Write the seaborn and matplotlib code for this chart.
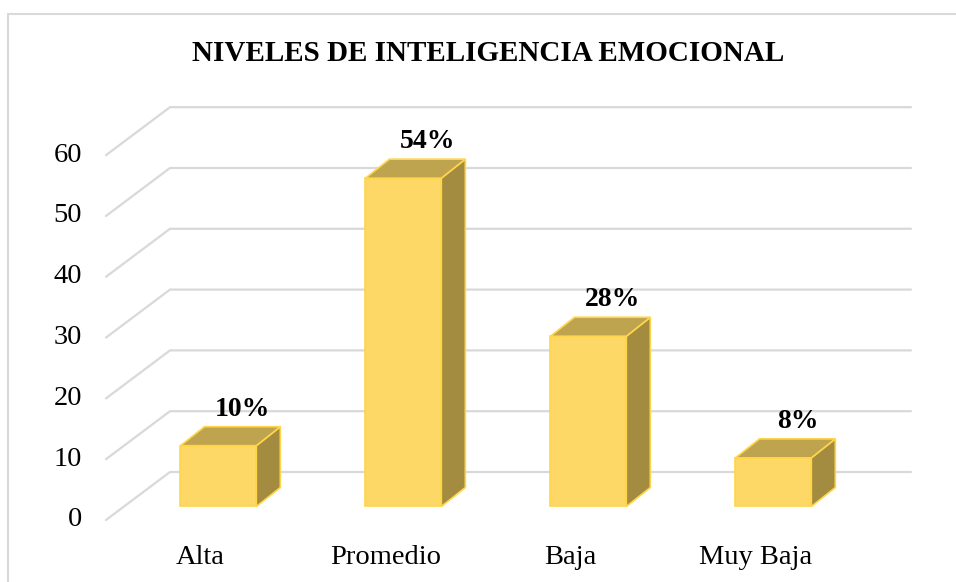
import matplotlib
matplotlib.use("Agg")
import matplotlib.pyplot as plt
import seaborn as sns
from matplotlib.patches import Polygon, Rectangle

# datos
categorias = ["Alta", "Promedio", "Baja", "Muy Baja"]
valores = [10, 54, 28, 8]
etiquetas = ["10%", "54%", "28%", "8%"]
ticks_y = [0, 10, 20, 30, 40, 50, 60]
titulo = "NIVELES DE INTELIGENCIA EMOCIONAL"

# colores estilo Excel 3D
c_frente = "#FDD866"
c_arriba = "#BFA44F"
c_lado = "#A38B40"
c_borde = "#FFD54A"
c_grid = "#D9D9D9"

sns.set_style("white")
plt.rcParams["font.family"] = ["Liberation Serif", "DejaVu Serif"]

W, H = 956, 582
fig = plt.figure(figsize=(W / 100, H / 100), dpi=100)
ax = fig.add_axes([124 / W, (H - 524.74) / H, 741 / W, (524.74 - 105.2) / H])

sns.barplot(x=categorias, y=valores, color=c_frente, width=0.41,
            edgecolor=c_borde, linewidth=1.2, saturation=1,
            errorbar=None, ax=ax, zorder=3)
ax.set_xlim(-0.5103, 3.4951)
ax.set_ylim(-3, 66)
ax.axis("off")


def px(dx, dy):
    # convierte un desplazamiento en pixeles a unidades de datos
    x0, x1 = ax.get_xlim()
    y0, y1 = ax.get_ylim()
    return dx * (x1 - x0) / 741, dy * (y1 - y0) / (524.74 - 105.2)


xl, xr = ax.get_xlim()
fdx, fdy = px(-18, -13.5)   # plano frontal
bdx, bdy = px(46, 34.5)     # plano de fondo

# cuadricula en perspectiva
for v in ticks_y:
    ax.plot([xl + fdx, xl + bdx, xr + bdx], [v + fdy, v + bdy, v + bdy],
            color=c_grid, lw=1.6, zorder=0, clip_on=False)
    ax.text(xl + fdx + px(-24, 0)[0], v + fdy, str(v), ha="right",
            va="center", fontsize=20.5, color="black")

# caras superior y lateral de cada barra
ddx, ddy = px(24, 19)
for bar, lab in zip(ax.patches[:len(valores)], etiquetas):
    x0 = bar.get_x()
    x1 = x0 + bar.get_width()
    h = bar.get_height()
    top = Polygon([(x0, h), (x1, h), (x1 + ddx, h + ddy), (x0 + ddx, h + ddy)],
                  closed=True, facecolor=c_arriba, edgecolor=c_borde,
                  lw=1.2, zorder=3)
    side = Polygon([(x1, 0), (x1, h), (x1 + ddx, h + ddy), (x1 + ddx, ddy)],
                   closed=True, facecolor=c_lado, edgecolor=c_borde,
                   lw=1.2, zorder=3)
    ax.add_patch(side)
    ax.add_patch(top)
    cx = (x0 + x1) / 2 + ddx
    ax.text(cx, h + ddy + px(0, 11)[1], lab, ha="center", va="baseline",
            fontsize=20, fontweight="bold", color="black", zorder=5)

# etiquetas de categorias en el plano frontal
for i, cat in enumerate(categorias):
    ax.text(i + fdx, fdy + px(0, -44)[1], cat, ha="center", va="baseline",
            fontsize=20.5, color="black")

fig.text(488 / W, 1 - 61 / H, titulo, ha="center", va="baseline",
         fontsize=21, fontweight="bold", color="black")

# marco del grafico
fig.patches.append(Rectangle((8 / W, -0.1), 1.2, 1 - 14 / H + 0.1,
                             transform=fig.transFigure, fill=False,
                             edgecolor="#D9D9D9", lw=1.5))

fig.savefig("out.png", dpi=100, facecolor="white")
